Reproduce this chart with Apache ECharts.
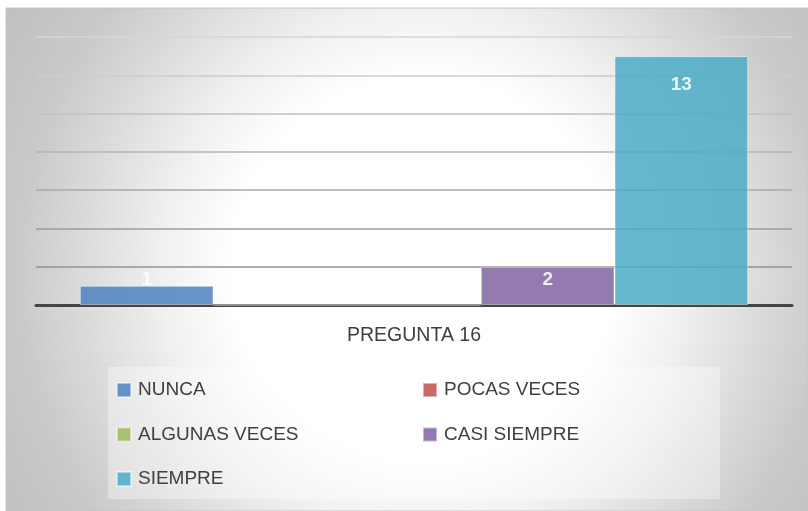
<!DOCTYPE html>
<html>
<head>
<meta charset="utf-8">
<title>PREGUNTA 16</title>
<script src="https://cdn.jsdelivr.net/npm/echarts@6/dist/echarts.min.js"></script>
<style>
  html, body { margin: 0; padding: 0; background: #fff; }
  #chart { width: 808px; height: 511px; }
</style>
</head>
<body>
<div id="chart"></div>
<script>
// datos
var categories = ['PREGUNTA 16'];
var seriesNames = ['NUNCA', 'POCAS VECES', 'ALGUNAS VECES', 'CASI SIEMPRE', 'SIEMPRE'];
var seriesValues = [1, 0, 0, 2, 13];
var colors = ['#4f81bd', '#c0504d', '#9bbb59', '#8064a2', '#4bacc6'];
var yTicks = [0, 2, 4, 6, 8, 10, 12, 14];

var font = 'Liberation Sans, Arial, sans-serif';

// etiqueta "inside end" como Excel: si la barra es corta se sale por arriba
function labelFor(v) {
  if (v >= 10) return { position: 'insideTop', distance: 19 };
  if (v >= 2) return { position: 'insideTop', distance: 4 };
  return { position: 'top', distance: -3 };
}

var series = seriesNames.map(function (name, i) {
  var place = labelFor(seriesValues[i]);
  return {
    name: name,
    type: 'bar',
    barGap: 0,
    barCategoryGap: '11.6%',
    data: [seriesValues[i]],
    itemStyle: {
      color: colors[i],
      opacity: 0.85,
      borderColor: 'rgba(255,255,255,0.55)',
      borderWidth: 1
    },
    label: {
      show: true,
      position: place.position,
      distance: place.distance,
      color: '#fff',
      fontFamily: font,
      fontWeight: 'bold',
      fontSize: 19,
      formatter: function (p) { return p.value === 0 ? '' : String(p.value); }
    }
  };
});

var legendText = { color: '#404040', fontFamily: font, fontSize: 19, lineHeight: 20, padding: [0, 0, 0, 2] };

var myChart = echarts.init(document.getElementById('chart'));
myChart.setOption({
  animation: false,
  color: colors,
  graphic: [
    {
      type: 'rect',
      z: -10,
      silent: true,
      shape: { x: 6, y: 8, width: 802, height: 503 },
      style: {
        fill: {
          type: 'radial', x: 0.52, y: 0.52, r: 1,
          colorStops: [
            { offset: 0, color: '#ffffff' },
            { offset: 0.38, color: '#ffffff' },
            { offset: 0.52, color: '#f0f0f0' },
            { offset: 0.65, color: '#dedede' },
            { offset: 0.8, color: '#cacaca' },
            { offset: 1, color: '#bebebe' }
          ]
        },
        stroke: '#c4c4c4',
        lineWidth: 1
      }
    },
    {
      type: 'rect',
      z: -9,
      silent: true,
      shape: { x: 108, y: 367, width: 612, height: 132 },
      style: { fill: 'rgba(255,255,255,0.35)' }
    }
  ],
  grid: { left: 36, right: 16, top: 37, bottom: 206, containLabel: false },
  legend: [
    {
      orient: 'vertical', left: 116, top: 380, padding: 0, icon: 'rect',
      itemWidth: 14, itemHeight: 14, itemGap: 24.5,
      data: [seriesNames[0], seriesNames[2], seriesNames[4]],
      textStyle: legendText
    },
    {
      orient: 'vertical', left: 422, top: 380, padding: 0, icon: 'rect',
      itemWidth: 14, itemHeight: 14, itemGap: 24.5,
      data: [seriesNames[1], seriesNames[3]],
      textStyle: legendText
    }
  ],
  xAxis: {
    type: 'category',
    data: categories,
    axisTick: { show: false },
    axisLine: { lineStyle: { color: '#454545', width: 3 } },
    axisLabel: { color: '#404040', fontFamily: font, fontSize: 19.5, margin: 21 }
  },
  yAxis: {
    type: 'value',
    min: yTicks[0],
    max: yTicks[yTicks.length - 1],
    interval: yTicks[1] - yTicks[0],
    axisLabel: { show: false },
    axisLine: { show: false },
    axisTick: { show: false },
    splitLine: {
      lineStyle: {
        width: 1.5,
        color: ['#8c8c8c', '#939393', '#9d9d9d', '#a8a8a8', '#b4b4b4', '#c0c0c0', '#cccccc', '#d6d6d6']
      }
    }
  },
  series: series
});
</script>
</body>
</html>
